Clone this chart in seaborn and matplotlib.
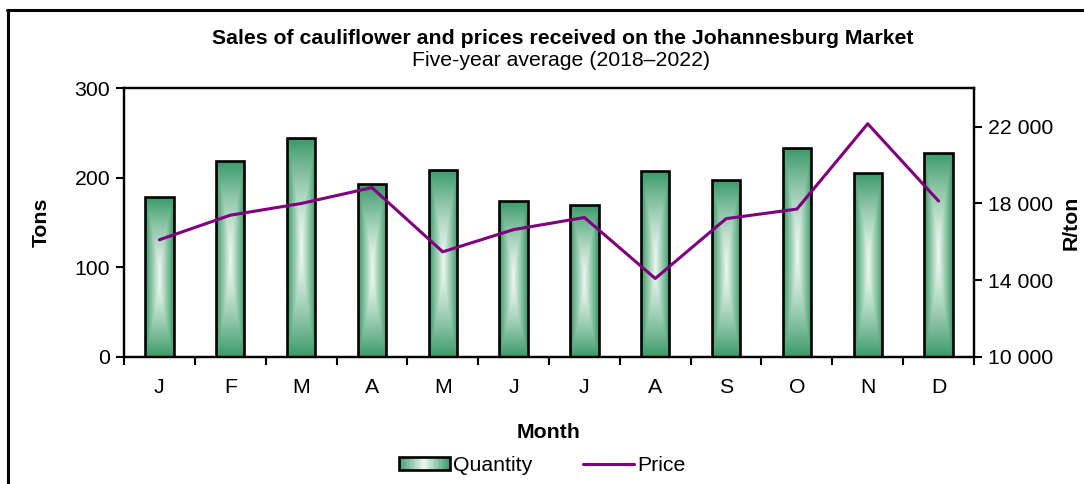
import matplotlib
matplotlib.use('Agg')
import matplotlib.pyplot as plt
import numpy as np
import pandas as pd
import seaborn as sns
from matplotlib.colors import LinearSegmentedColormap
from matplotlib.patches import Rectangle
from matplotlib.lines import Line2D
from matplotlib.legend_handler import HandlerBase
from matplotlib.ticker import FuncFormatter, FixedLocator

# Data
months = ['Jan', 'Feb', 'Mar', 'Apr', 'May', 'Jun',
          'Jul', 'Aug', 'Sep', 'Oct', 'Nov', 'Dec']
month_labels = ['J', 'F', 'M', 'A', 'M', 'J', 'J', 'A', 'S', 'O', 'N', 'D']
quantity = [178, 219, 244, 193, 209, 174, 169, 207, 197, 233, 205, 228]
price = [16100, 17380, 17990, 18820, 15470, 16630, 17260, 14080, 17200, 17700, 22150, 18120]

GREEN = '#3a9a68'
LIGHT = '#ecf7f0'
PURPLE = '#800080'
grad_cmap = LinearSegmentedColormap.from_list('bar_grad', [LIGHT, GREEN])

sns.set_style('white')
plt.rcParams['font.family'] = ['Liberation Sans', 'DejaVu Sans']
for key in ('text.color', 'axes.labelcolor', 'xtick.color', 'ytick.color'):
    plt.rcParams[key] = 'black'
FS = 15.3

df = pd.DataFrame({'month': months, 'quantity': quantity, 'price': price})

fig = plt.figure(figsize=(10.84, 4.84), dpi=100)
ax = fig.add_axes([0.1144, 0.263, 0.7841, 0.5546])

sns.barplot(data=df, x='month', y='quantity', order=months, width=0.4,
            color=GREEN, edgecolor='black', linewidth=1.9, ax=ax, zorder=2)

# rectangular gradient fill: light centre, green at the edges
ny, nx = 200, 60
yy, xx = np.mgrid[-1:1:ny * 1j, -1:1:nx * 1j]
tgrid = np.maximum(np.abs(xx), np.abs(yy) ** 1.4)
for p in list(ax.patches):
    x0, y0 = p.get_x(), p.get_y()
    w, h = p.get_width(), p.get_height()
    im = ax.imshow(tgrid, cmap=grad_cmap, vmin=0, vmax=1, aspect='auto',
                   extent=(x0, x0 + w, y0, y0 + h), origin='lower',
                   interpolation='bilinear', zorder=2.1)
    im.set_clip_path(p)
    p.set_facecolor('none')
    p.set_zorder(2.2)

ax.set_xlim(-0.5, 11.5)
ax.set_ylim(0, 300)
ax.set_yticks([0, 100, 200, 300])
ax.set_xticks(range(12))
ax.set_xticklabels(month_labels)
ax.xaxis.set_minor_locator(FixedLocator(np.arange(-0.5, 12, 1)))
ax.tick_params(axis='x', which='major', length=0, pad=15, labelsize=FS)
ax.tick_params(axis='x', which='minor', length=6, width=1.5, direction='out',
               bottom=True, color='black')
ax.tick_params(axis='y', length=6, width=1.5, direction='out', left=True,
               labelsize=FS, pad=4, color='black')
ax.set_xlabel('Month', fontsize=FS, fontweight='bold', labelpad=19)
ax.set_ylabel('Tons', fontsize=FS, fontweight='bold', labelpad=17)

ax2 = ax.twinx()
sns.lineplot(x=np.arange(12), y=price, color=PURPLE, linewidth=2.2, ax=ax2)
ax2.set_ylim(10000, 24000)
ax2.set_yticks([10000, 14000, 18000, 22000])
ax2.yaxis.set_major_formatter(FuncFormatter(lambda v, _: f'{int(v):,}'.replace(',', ' ')))
ax2.tick_params(axis='y', length=6, width=1.5, direction='out', right=True,
                labelsize=FS, pad=4, color='black')
ax2.set_ylabel('R/ton', fontsize=FS, fontweight='bold', labelpad=6)
ax2.set_xlim(-0.5, 11.5)

for a in (ax, ax2):
    for s in a.spines.values():
        s.set_visible(True)
        s.set_color('black')
        s.set_linewidth(1.6)

fig.text(0.5195, 0.921, 'Sales of cauliflower and prices received on the Johannesburg Market',
         ha='center', va='center', fontsize=FS, fontweight='bold')
fig.text(0.5175, 0.874, 'Five-year average (2018\u20132022)',
         ha='center', va='center', fontsize=FS)


class GradientPatchHandler(HandlerBase):
    def create_artists(self, legend, orig_handle, xdescent, ydescent,
                       width, height, fontsize, trans):
        arts = []
        n = 40
        for i in range(n):
            c = abs((i + 0.5) / n * 2 - 1)
            arts.append(Rectangle((-xdescent + width * i / n, -ydescent),
                                  width / n + 0.3, height, facecolor=grad_cmap(c),
                                  edgecolor='none', transform=trans))
        arts.append(Rectangle((-xdescent, -ydescent), width, height,
                              facecolor='none', edgecolor='black', linewidth=1.9,
                              transform=trans))
        return arts


qty_handle = Rectangle((0, 0), 1, 1)
price_handle = Line2D([], [], color=PURPLE, linewidth=2.2)
fig.legend([qty_handle, price_handle], ['Quantity', 'Price'],
           handler_map={Rectangle: GradientPatchHandler()},
           loc='center', bbox_to_anchor=(0.5, 0.038), ncol=2, frameon=False,
           fontsize=FS, handlelength=2.4, handleheight=0.55, handletextpad=0.15,
           columnspacing=2.4)

# outer frame (top and left edges visible)
fig.add_artist(Line2D([7 / 1084, 1], [1 - 10 / 484, 1 - 10 / 484],
                      transform=fig.transFigure, color='black', linewidth=2.2))
fig.add_artist(Line2D([8 / 1084, 8 / 1084], [0, 1 - 10 / 484],
                      transform=fig.transFigure, color='black', linewidth=2.2))

fig.savefig('out.png', dpi=100)
plt.close(fig)
